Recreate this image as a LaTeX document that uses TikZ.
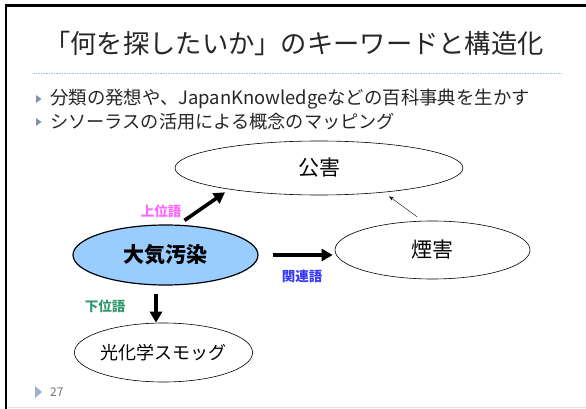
\documentclass[tikz,border=0pt]{standalone}
\usepackage{fontspec}
\setmainfont{Noto Sans CJK JP}
\usetikzlibrary{arrows.meta,shapes.geometric}
\definecolor{fillblue}{HTML}{99CCFF}
\definecolor{sepblue}{HTML}{A6BCD6}
\definecolor{bulletgray}{HTML}{8290A8}
\definecolor{footblue}{HTML}{9CB2CA}
\definecolor{jouicol}{HTML}{FF66FF}
\definecolor{kanrencol}{HTML}{3838FF}
\definecolor{kaicol}{HTML}{339970}
\begin{document}
\begin{tikzpicture}[x=1pt,y=-1pt,>={Triangle[length=11pt,width=12pt]}]
		\tikzset{
			term/.style={draw,ellipse,inner sep=0pt,line width=0.6pt,font=\fontsize{21}{24}\selectfont},
			bigarrow/.style={->,line width=3.6pt},
			sepline/.style={sepblue,line width=0.6pt,dash pattern=on 1.6pt off 1pt},
			rel/.style={inner sep=0pt,font=\bfseries\fontsize{13.5}{15}\selectfont},
		}
		\useasboundingbox (0,0) rectangle (586,409);
		% khung
		\draw[line width=2.5pt] (6,409) -- (6,5.5) -- (586,5.5);
		\draw[black!12,line width=1pt] (8,407.5) -- (586,407.5);
		% tieu de
		\node[anchor=west,inner sep=0pt,text=black!85,font=\fontsize{26.3}{30}\selectfont] (title) at (44,44) {「何を探したいか」のキーワードと構造化};
		\draw[sepline] (33,73) -- (563,73);
		\foreach \y in {99,122} \fill[bulletgray] (36,\y-4) -- (41.5,\y) -- (36,\y+4) -- cycle;
		\node[anchor=west,inner sep=0pt,text=black!85,font=\fontsize{18.4}{21}\selectfont] (item1) at (50,99) {分類の発想や、JapanKnowledgeなどの百科事典を生かす};
		\node[anchor=west,inner sep=0pt,text=black!85,font=\fontsize{18.2}{21}\selectfont] (item2) at (50,122) {シソーラスの活用による概念のマッピング};
		% cac khai niem
		\node[term,minimum width=288pt,minimum height=54pt] (kougai) at (319,168) {公害};
		\node[term,fill=fillblue,line width=1.2pt,minimum width=185pt,minimum height=60pt,font=\bfseries\fontsize{21}{24}\selectfont] (taiki) at (165.5,255) {大気汚染};
		\node[term,minimum width=195pt,minimum height=58pt] (enkai) at (432.5,250) {煙害};
		\node[term,minimum width=171pt,minimum height=59pt,font=\fontsize{18}{21}\selectfont] (smog) at (163.5,352.5) {光化学スモッグ};
		% mui ten
		\draw[bigarrow] ([xshift=19pt,yshift=4pt]taiki.north) -- ([xshift=-94pt,yshift=3pt]kougai.south);
		\draw[bigarrow,shorten <=14pt,shorten >=2pt] (taiki.east) -- (taiki.east -| enkai.west);
		\draw[bigarrow,shorten <=8pt] ([xshift=-9.5pt]taiki.south) -- ([xshift=-9.5pt]taiki.south |- smog.north);
		\draw[-{Stealth[length=5pt,width=3.5pt]},line width=0.4pt] ([xshift=-15.5pt,yshift=4pt]enkai.north) -- ([xshift=70pt,yshift=-1pt]kougai.south);
		\node[rel,text=jouicol] (joui) at (161,211) {上位語};
		\node[rel,text=kanrencol] (kanren) at (302,276) {関連語};
		\node[rel,text=kaicol] (kai) at (105,306) {下位語};
		% so trang
		\fill[footblue] (35,386) -- (42,392) -- (35,398) -- cycle;
		\node[anchor=west,inner sep=0pt,text=black!55,font=\fontsize{12}{14}\selectfont] (pageno) at (50,392) {27};
\end{tikzpicture}
\end{document}
